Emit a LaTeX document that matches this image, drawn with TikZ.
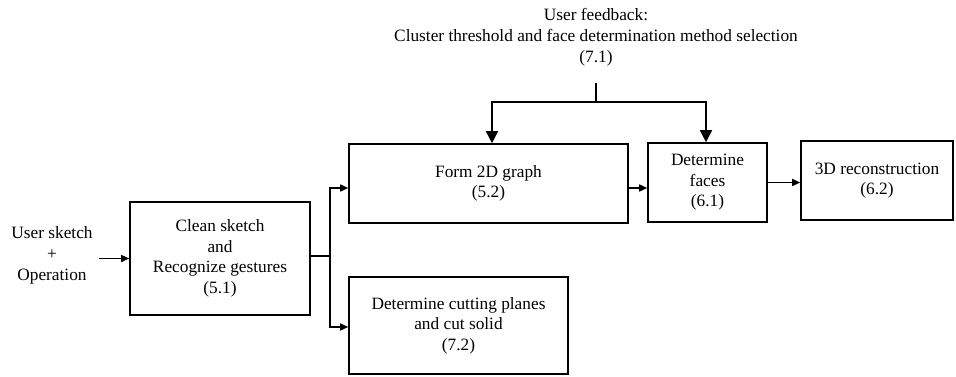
\documentclass[tikz,border=0pt]{standalone}
\usepackage{fontspec}
\setmainfont{Liberation Serif}
\usetikzlibrary{arrows.meta}
\begin{document}
\begin{tikzpicture}[x=1pt,y=-1pt,
  box/.style={draw,line width=1.6pt,inner sep=0pt,align=center,font=\fontsize{17.3}{20.5}\selectfont},
  lbl/.style={inner sep=0pt,align=center,font=\fontsize{17.3}{21}\selectfont},
  ln/.style={line width=1.5pt},
  arr/.style={ln,-{Triangle[length=8pt,width=7pt]}},
  arrv/.style={ln,-{Triangle[length=12pt,width=12pt]}}]
\useasboundingbox (0,0) rectangle (956,376);
\node[lbl] (input) at (52,255) {User sketch\\+\\Operation};
\node[lbl] (fbk) at (596,37) {User feedback:\\Cluster threshold and face determination method selection\\(7.1)};
\node[box,minimum width=180pt,minimum height=113pt] (clean) at (220,258.5) {Clean sketch\\and\\Recognize gestures\\(5.1)};
\node[box,minimum width=279pt,minimum height=79pt] (form) at (488.5,183.5) {Form 2D graph\\(5.2)};
\node[box,minimum width=119pt,minimum height=79pt] (faces) at (707.5,182.5) {Determine\\faces\\(6.1)};
\node[box,minimum width=152pt,minimum height=79pt] (recon) at (877,180.5) {3D reconstruction\\(6.2)};
\node[box,minimum width=219pt,minimum height=97pt] (cut) at (458.5,325.5) {Determine cutting planes\\and cut solid\\(7.2)};
\coordinate (br) at (330,256);
\coordinate (fb) at (596,83);
\coordinate (fj) at (596,102);
\draw[arr] ([xshift=6pt]input.east |- clean.west) -- (clean.west);
\draw[ln] (clean.east |- br) -- (br);
\draw[arr] (br) |- ([yshift=-4.5pt]form.west);
\draw[arr] (br) |- ([yshift=-1.5pt]cut.west);
\draw[arr] ([yshift=-4.5pt]form.east) -- ([yshift=-5.5pt]faces.west);
\draw[arr] (faces.east) -- (recon.west |- faces.east);
\draw[ln] (fb) -- (fj);
\draw[arrv] (fj) -| ([xshift=3.5pt]form.north);
\draw[arrv] (fj) -| ([xshift=-1.5pt]faces.north);
\end{tikzpicture}
\end{document}
